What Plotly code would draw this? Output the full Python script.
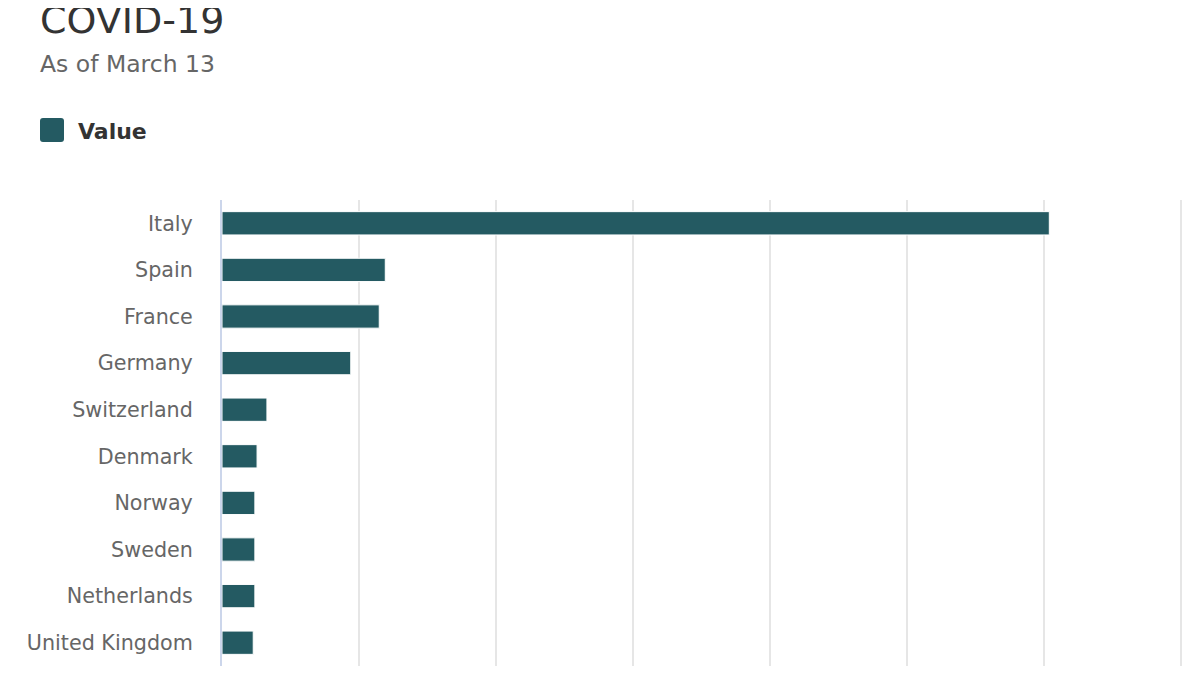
import plotly.graph_objects as go

# data (cases as of March 13)
countries = ["Italy", "Spain", "France", "Germany", "Switzerland",
             "Denmark", "Norway", "Sweden", "Netherlands", "United Kingdom"]
values = [15100, 2980, 2870, 2350, 820, 640, 600, 600, 600, 570]
series_name = "Value"
x_ticks = [0, 2500, 5000, 7500, 10000, 12500, 15000, 17500]

bar_color = "#245a62"
font = "DejaVu Sans"

# page has an 8px body margin, so the figure is drawn 8px smaller
W, H = 1192, 667
L, T, R, B = 214, 192, 1175, 658  # plot area in figure pixels
x_max = 17540  # a bit past the last tick so its gridline is drawn

fig = go.Figure()
fig.add_trace(
    go.Bar(
        x=values,
        y=countries,
        orientation="h",
        name=series_name,
        width=0.5,
        marker=dict(color=bar_color, line=dict(color="#ffffff", width=1)),
        showlegend=False,
    )
)

fig.update_xaxes(
    range=[0, x_max],
    tickvals=x_ticks,
    showticklabels=False,
    showgrid=True,
    gridcolor="#e6e6e6",
    gridwidth=2,
    zeroline=False,
)
fig.update_yaxes(
    autorange="reversed",
    showgrid=False,
    showline=True,
    linecolor="#ccd6eb",
    linewidth=2,
    ticks="",
    ticklabelstandoff=23,
    tickfont=dict(family=font, size=20.7, color="#666666"),
)


# helpers: page pixel -> paper coords
def py(p):
    return ((B + 8) - p) / (B - T)


def px_(p):
    return (p - (L + 8)) / (R - L)


fig.update_layout(
    width=W,
    height=H,
    margin=dict(l=L, r=W - R, t=T, b=H - B),
    plot_bgcolor="#ffffff",
    paper_bgcolor="#ffffff",
    font=dict(family=font),
    title=dict(
        text="COVID-19",
        font=dict(family=font, size=38, color="#333333"),
        xref="container", x=32 / W, xanchor="left",
        yref="container", y=1 - 12 / H, yanchor="middle",
    ),
    annotations=[
        dict(text="As of March 13", xref="paper", yref="paper",
             x=px_(38), y=py(64), xanchor="left", yanchor="middle",
             showarrow=False, font=dict(family=font, size=23.5, color="#666666")),
        dict(text="<b>" + series_name + "</b>", xref="paper", yref="paper",
             x=px_(76), y=py(131), xanchor="left", yanchor="middle",
             showarrow=False, font=dict(family=font, size=22, color="#333333")),
    ],
    shapes=[
        dict(type="path", xref="paper", yref="paper",
             path=(f"M {px_(43)},{py(118)} L {px_(61)},{py(118)} "
                   f"Q {px_(64)},{py(118)} {px_(64)},{py(121)} "
                   f"L {px_(64)},{py(139)} Q {px_(64)},{py(142)} {px_(61)},{py(142)} "
                   f"L {px_(43)},{py(142)} Q {px_(40)},{py(142)} {px_(40)},{py(139)} "
                   f"L {px_(40)},{py(121)} Q {px_(40)},{py(118)} {px_(43)},{py(118)} Z"),
             fillcolor=bar_color, line=dict(width=0)),
    ],
)

fig.write_html("out.html")
